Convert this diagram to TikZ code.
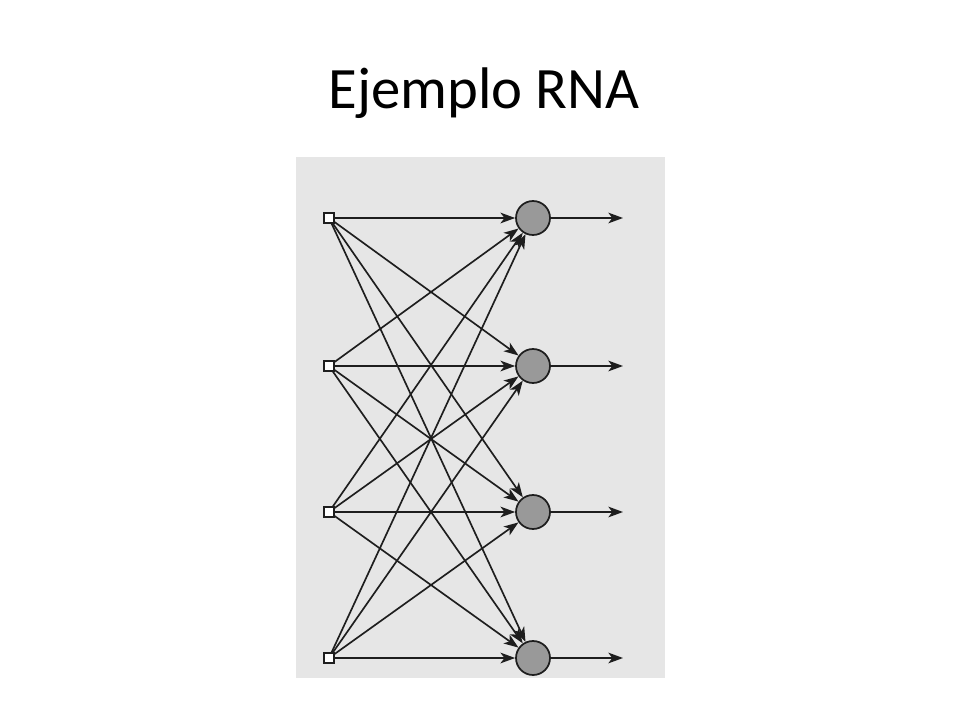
\documentclass[tikz,border=0pt]{standalone}
\usepackage{fontspec}
\setmainfont{Carlito}
\usetikzlibrary{arrows.meta}
\definecolor{scanbg}{HTML}{E6E6E6}
\definecolor{neuronfill}{HTML}{999999}
\definecolor{inkc}{HTML}{1E1E1E}
\tikzset{
  inbox/.style={draw=inkc, fill=white, line width=1pt, minimum size=7.5pt, inner sep=0pt},
  neuron/.style={circle, draw=inkc, fill=neuronfill, line width=1.3pt, minimum size=25.5pt, inner sep=0pt},
  link/.style={draw=inkc, line width=1.25pt, -{Stealth[length=11pt,width=8pt,inset=3pt]}},
}
\begin{document}
\begin{tikzpicture}[x=0.75pt,y=-0.75pt]
\useasboundingbox (0,0) rectangle (960,720);
\fill[white] (0,0) rectangle (960,720);
\node[font=\fontsize{44}{50}\selectfont, anchor=base] (title) at (484,109) {Ejemplo RNA};
\fill[scanbg] (296,157) rectangle (665,678);
\foreach \i/\y in {1/218,2/366,3/512,4/658}{
  \node[inbox] (x\i) at (329,\y) {};
  \node[neuron] (n\i) at (533,\y) {};
  \coordinate (o\i) at (623,\y);
}
\foreach \i in {1,...,4}{
  \foreach \j in {1,...,4}{
    \draw[link] (x\i.center) -- (n\j);
  }
  \draw[link] (n\i) -- (o\i);
}
\foreach \i in {1,...,4}{ \node[inbox] at (x\i) {}; }
\end{tikzpicture}
\end{document}
